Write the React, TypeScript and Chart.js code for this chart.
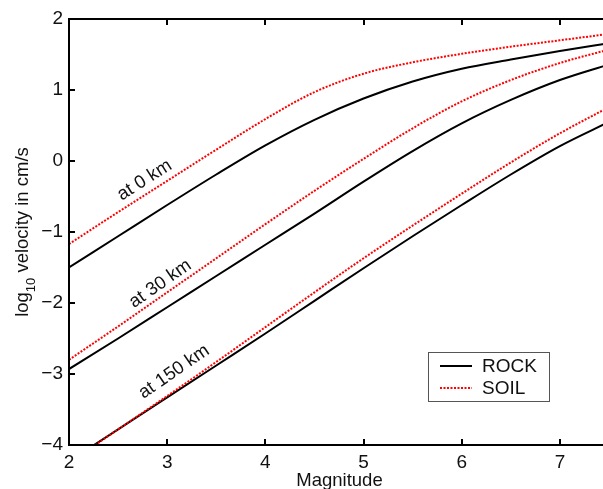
import React, { useEffect, useRef } from 'react';
import { Chart, registerables } from 'chart.js';

Chart.register(...registerables);

// ---- data ----
const magnitudes = [2, 2.5, 3, 3.5, 4, 4.5, 5, 5.5, 6, 6.5, 7, 7.5];
const rock0 = [-1.5, -1.06, -0.62, -0.19, 0.22, 0.58, 0.88, 1.12, 1.3, 1.43, 1.55, 1.66];
const soil0 = [-1.17, -0.72, -0.28, 0.16, 0.59, 0.97, 1.23, 1.39, 1.51, 1.61, 1.7, 1.79];
const rock30 = [-2.93, -2.5, -2.06, -1.62, -1.18, -0.74, -0.29, 0.14, 0.53, 0.86, 1.14, 1.36];
const soil30 = [-2.8, -2.33, -1.85, -1.37, -0.89, -0.42, 0.03, 0.46, 0.84, 1.14, 1.38, 1.57];
const rock150 = [-4.23, -3.78, -3.33, -2.88, -2.43, -1.97, -1.51, -1.06, -0.62, -0.19, 0.21, 0.55];
const soil150 = [-4.25, -3.78, -3.31, -2.83, -2.34, -1.85, -1.37, -0.91, -0.46, -0.02, 0.39, 0.76];

const xTicks = [2, 3, 4, 5, 6, 7];
const yTicks = [-4, -3, -2, -1, 0, 1, 2];
const distanceLabels = ['at 0 km', 'at 30 km', 'at 150 km'];
const legendLabels = ['ROCK', 'SOIL'];
const xTitle = 'Magnitude';
const yTitleParts = ['log', '10', ' velocity in cm/s'];

const FONT = '"Liberation Sans", Arial, Helvetica, sans-serif';
const TEXT = '#111';
const RED = '#ff0000';

const toPts = (vals: number[]) => magnitudes.map((m, i) => ({ x: m, y: vals[i] }));

const annotPlugin = {
  id: 'annot',
  afterDatasetsDraw(chart: any) {
    const { ctx, chartArea: a, scales } = chart;
    const x = scales.x;
    const y = scales.y;
    ctx.save();

    // rotated distance labels (anchored in data coordinates, angle from soil curve)
    const anchors: [number, number][] = [[2.77, -0.27], [2.93, -1.73], [3.07, -2.97]];
    const soils = [soil0, soil30, soil150];
    ctx.font = `18.5px ${FONT}`;
    ctx.fillStyle = TEXT;
    ctx.textAlign = 'center';
    ctx.textBaseline = 'middle';
    distanceLabels.forEach((lab, i) => {
      const s = soils[i];
      const dx = x.getPixelForValue(magnitudes[3]) - x.getPixelForValue(magnitudes[1]);
      const dy = y.getPixelForValue(s[3]) - y.getPixelForValue(s[1]);
      const ang = Math.atan2(dy, dx);
      ctx.save();
      ctx.translate(x.getPixelForValue(anchors[i][0]), y.getPixelForValue(anchors[i][1]));
      ctx.rotate(ang);
      ctx.fillText(lab, 0, 0);
      ctx.restore();
    });

    // axes box
    ctx.strokeStyle = '#000';
    ctx.lineWidth = 2;
    ctx.beginPath();
    ctx.moveTo(a.left, a.top);
    ctx.lineTo(a.right, a.top);
    ctx.lineTo(a.right, a.bottom);
    ctx.lineTo(a.left, a.bottom);
    ctx.closePath();
    ctx.stroke();

    // inward tick marks
    const tl = 6;
    ctx.beginPath();
    x.ticks.forEach((t: any) => {
      const px = Math.round(x.getPixelForValue(t.value));
      ctx.moveTo(px, a.bottom);
      ctx.lineTo(px, a.bottom - tl);
      ctx.moveTo(px, a.top);
      ctx.lineTo(px, a.top + tl);
    });
    y.ticks.forEach((t: any) => {
      const py = Math.round(y.getPixelForValue(t.value));
      ctx.moveTo(a.left, py);
      ctx.lineTo(a.left + tl, py);
      ctx.moveTo(a.right, py);
      ctx.lineTo(a.right - tl, py);
    });
    ctx.stroke();

    // legend box
    const lx = a.left + 359;
    const ly = a.top + 333;
    const lw = 121;
    const lh = 49;
    ctx.fillStyle = '#fff';
    ctx.fillRect(lx, ly, lw, lh);
    ctx.strokeStyle = '#555';
    ctx.lineWidth = 1;
    ctx.strokeRect(lx + 0.5, ly + 0.5, lw, lh);
    const styles = [
      { color: '#000', dash: [] as number[] },
      { color: RED, dash: [2, 1.5] },
    ];
    legendLabels.forEach((lab, i) => {
      const yy = ly + 14 + i * 22;
      ctx.strokeStyle = styles[i].color;
      ctx.lineWidth = 2;
      ctx.setLineDash(styles[i].dash);
      ctx.beginPath();
      ctx.moveTo(lx + 12, yy);
      ctx.lineTo(lx + 44, yy);
      ctx.stroke();
      ctx.setLineDash([]);
      ctx.fillStyle = TEXT;
      ctx.font = `19px ${FONT}`;
      ctx.textAlign = 'left';
      ctx.textBaseline = 'middle';
      ctx.fillText(lab, lx + 54, yy + 1);
    });

    // x title
    ctx.fillStyle = TEXT;
    ctx.font = `18.5px ${FONT}`;
    ctx.textAlign = 'center';
    ctx.textBaseline = 'alphabetic';
    ctx.fillText(xTitle, 339.5, 486);

    // y title with subscript
    ctx.save();
    ctx.translate(27.5, 232);
    ctx.rotate(-Math.PI / 2);
    const mainFont = `18.5px ${FONT}`;
    const subFont = `13px ${FONT}`;
    ctx.font = mainFont;
    const w0 = ctx.measureText(yTitleParts[0]).width;
    const w2 = ctx.measureText(yTitleParts[2]).width;
    ctx.font = subFont;
    const w1 = ctx.measureText(yTitleParts[1]).width;
    let cx = -(w0 + w1 + w2) / 2;
    ctx.textAlign = 'left';
    ctx.font = mainFont;
    ctx.fillText(yTitleParts[0], cx, 0);
    cx += w0;
    ctx.font = subFont;
    ctx.fillText(yTitleParts[1], cx, 7);
    cx += w1;
    ctx.font = mainFont;
    ctx.fillText(yTitleParts[2], cx, 0);
    ctx.restore();

    ctx.restore();
  },
};

export default function App() {
  const ref = useRef<HTMLCanvasElement | null>(null);

  useEffect(() => {
    if (!ref.current) return;
    const mk = (label: string, vals: number[], soil: boolean) => ({
      label,
      data: toPts(vals),
      borderColor: soil ? RED : '#000',
      borderWidth: 2,
      borderDash: soil ? [2, 1.5] : [],
      pointRadius: 0,
      fill: false,
      cubicInterpolationMode: 'monotone' as const,
      order: soil ? 0 : 1,
    });
    const chart = new Chart(ref.current, {
      type: 'line',
      data: {
        datasets: [
          mk('ROCK 0 km', rock0, false),
          mk('SOIL 0 km', soil0, true),
          mk('ROCK 30 km', rock30, false),
          mk('SOIL 30 km', soil30, true),
          mk('ROCK 150 km', rock150, false),
          mk('SOIL 150 km', soil150, true),
        ],
      },
      options: {
        responsive: false,
        animation: false,
        devicePixelRatio: 1,
        layout: { padding: { top: 19, right: 11, left: 0, bottom: 0 } },
        plugins: { legend: { display: false }, tooltip: { enabled: false } },
        scales: {
          x: {
            type: 'linear',
            min: 2,
            max: 7.5,
            grid: { display: false, drawTicks: false },
            border: { display: false },
            afterBuildTicks: (s: any) => {
              s.ticks = xTicks.map((v) => ({ value: v }));
            },
            afterFit: (s: any) => {
              s.height = 44;
            },
            ticks: {
              font: { family: FONT, size: 19 },
              color: TEXT,
              padding: 6,
              maxRotation: 0,
              autoSkip: false,
            },
          },
          y: {
            type: 'linear',
            min: -4,
            max: 2,
            grid: { display: false, drawTicks: false },
            border: { display: false },
            afterBuildTicks: (s: any) => {
              s.ticks = yTicks.map((v) => ({ value: v }));
            },
            afterFit: (s: any) => {
              s.width = 69;
            },
            ticks: {
              font: { family: FONT, size: 19 },
              color: TEXT,
              padding: 6,
              autoSkip: false,
              callback: (v: any) => (Number(v) < 0 ? '\u2212' + Math.abs(Number(v)) : String(v)),
            },
          },
        },
      },
      plugins: [annotPlugin],
    });
    return () => chart.destroy();
  }, []);

  return (
    <div
      style={{
        position: 'fixed',
        left: 0,
        top: 0,
        width: 603,
        height: 489,
        overflow: 'hidden',
        background: '#fff',
      }}
    >
      <canvas ref={ref} width={620} height={489} style={{ display: 'block', width: 620, height: 489 }} />
    </div>
  );
}
